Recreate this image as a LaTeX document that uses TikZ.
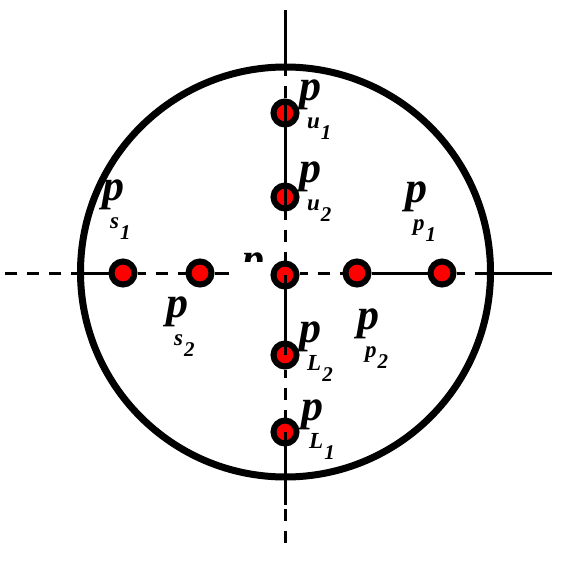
\documentclass[tikz,border=0pt]{standalone}
\usepackage{fontspec}
\setmainfont{Liberation Serif}[BoldItalicFont={Liberation Serif Bold Italic}]
\newcommand\plab[2]{{\fontsize{44}{44}\selectfont\bfseries\itshape p}\kern-14pt\raisebox{-28pt}{\fontsize{23}{23}\selectfont\bfseries\itshape #1\kern1pt\raisebox{-11pt}{\fontsize{21}{21}\selectfont #2}}}
\begin{document}
\begin{tikzpicture}[x=1pt,y=-1pt,
  pt/.style={circle, draw=black, fill=red, line width=6pt, minimum size=23pt, inner sep=0pt},
  conn/.style={line width=3pt},
  dconn/.style={conn, dash pattern=on 12pt off 10pt},
  lab/.style={anchor=base west, inner sep=0pt}]
\useasboundingbox (0,0) rectangle (560,562);
% big circle
\draw[line width=7pt] (285.5,272) circle (205);
% coordinates for free ends
\coordinate (top) at (285,10);
\coordinate (ctop) at (285,68);
\coordinate (bot1) at (285,505);
\coordinate (bot2) at (285,552);
\coordinate (left) at (5,273);
\coordinate (cleft) at (80,273);
\coordinate (s2end) at (229,273);
\coordinate (cright) at (492,273);
\coordinate (right) at (552,273);
% nodes
\node[pt] (u1) at (285,113) {};
\node[pt] (u2) at (285,197) {};
\node[pt] (c)  at (285,275) {};
\node[pt] (L2) at (285,355) {};
\node[pt] (L1) at (285,432) {};
\node[pt] (s1) at (123,273) {};
\node[pt] (s2) at (200,273) {};
\node[pt] (p2) at (357,273) {};
\node[pt] (p1) at (442,273) {};
% vertical connectors
\draw[conn] (top) -- (ctop);
\draw[dconn, dash phase=4pt] (ctop) -- (u1.north);
\draw[conn] (u1.north) -- (u2.south);
\draw[dconn, dash phase=4pt] (u2.south) -- (c.north);
\draw[conn] (c.center) -- (L2.center);
\draw[dconn, dash phase=4pt] (L2.south) -- (L1.north);
\draw[conn] (L1.center) -- (bot1);
\draw[dconn, dash phase=-4pt] (bot1) -- (bot2);
% horizontal connectors
\draw[dconn] (left) -- (cleft);
\draw[conn] (cleft) -- (s1);
\draw[dconn, dash phase=4pt] (s1) -- (s2);
\draw[conn] (s2) -- (s2end);
\draw[dconn, dash phase=4pt] (c.east |- p2) -- (p2);
\draw[conn] (p2) -- (p1);
\draw[dconn, dash phase=4pt] (p1) -- (cright);
\draw[conn] (cright) -- (right);
% labels
\node[lab] (lu1) at (299,100) {\plab{u}{1}};
\node[lab] (lu2) at (299,182) {\plab{u}{2}};
\node[lab] (ls1) at (102,200) {\plab{s}{1}};
\node[lab] (ls2) at (166,317) {\plab{s}{2}};
\node[lab] (lp1) at (405,202) {\plab{p}{1}};
\node[lab] (lp2) at (357,329) {\plab{p}{2}};
\node[lab] (lL2) at (299,342) {\plab{L}{2}};
\node[lab] (lL1) at (301,420) {\plab{L}{1}};
\begin{scope}
\clip (230,250) rectangle (270,261);
\node[lab] (lc) at (242,273) {\fontsize{44}{44}\selectfont\bfseries\itshape p};
\end{scope}
\end{tikzpicture}
\end{document}
